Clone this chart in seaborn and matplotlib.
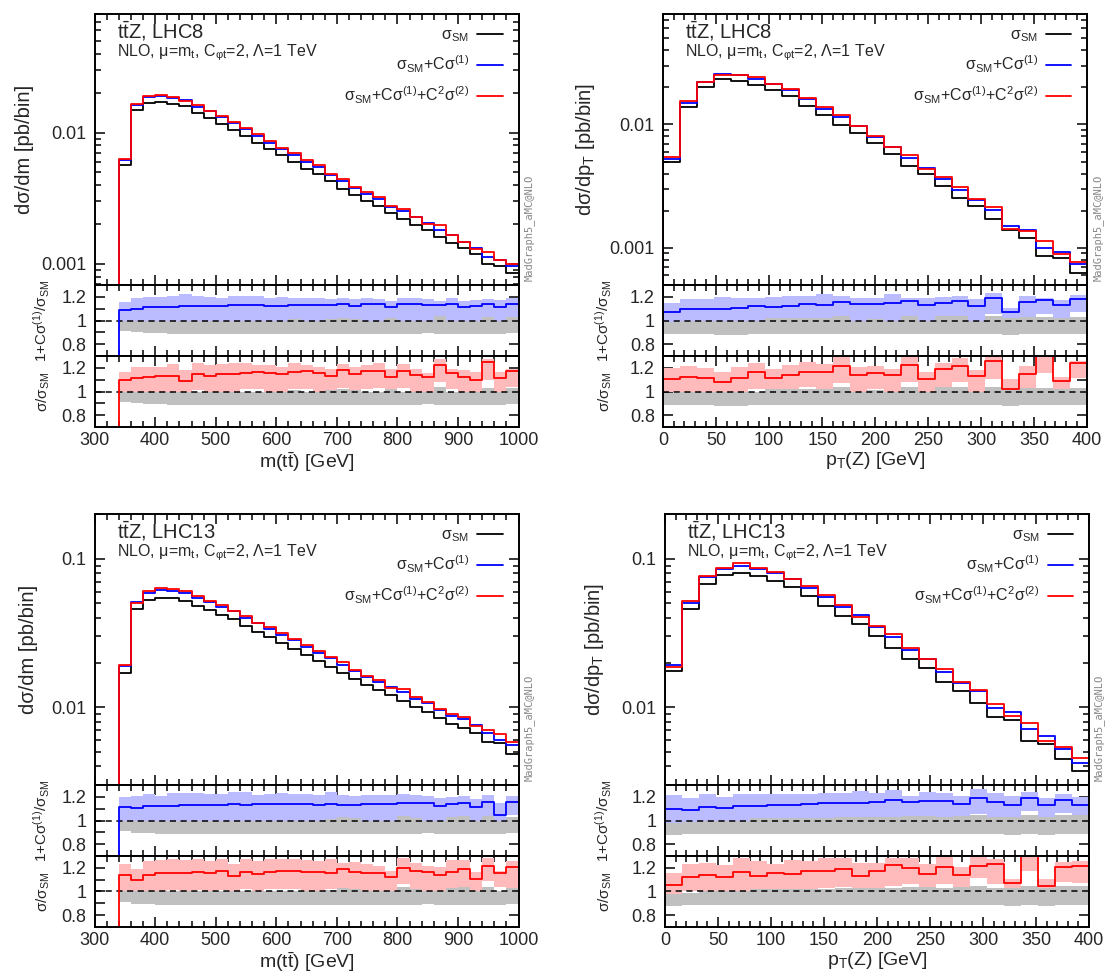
import numpy as np
import matplotlib
matplotlib.use("Agg")
import matplotlib.pyplot as plt
import seaborn as sns
from matplotlib.ticker import MultipleLocator, FixedLocator, FuncFormatter, LogLocator, NullFormatter

# ---------------- data ----------------
m_edges = np.arange(340, 1001, 20)      # m(tt) bins [GeV]
pt_edges = np.arange(0, 401, 16)        # pT(Z) bins [GeV]

# LHC8, m(tt)
sm8_m = [0.0057, 0.0148, 0.0168, 0.0171, 0.0165, 0.0159, 0.0141, 0.0130, 0.0117, 0.0105, 0.00938,
         0.00834, 0.00746, 0.00671, 0.00597, 0.00531, 0.00486, 0.00425, 0.00374, 0.00336, 0.00299,
         0.00274, 0.00245, 0.00221, 0.00199, 0.00180, 0.00160, 0.00144, 0.00132, 0.00118, 0.00099,
         0.00097, 0.00085]
lin8_m = [1.09, 1.10, 1.11, 1.115, 1.115, 1.12, 1.12, 1.125, 1.125, 1.128, 1.13, 1.133, 1.122, 1.125,
          1.13, 1.133, 1.128, 1.127, 1.142, 1.125, 1.136, 1.136, 1.11, 1.139, 1.136, 1.128, 1.127,
          1.142, 1.11, 1.12, 1.14, 1.11, 1.137]
lin8_m_hi = [1.158, 1.186, 1.2, 1.2, 1.206, 1.228, 1.206, 1.2, 1.194, 1.206, 1.206, 1.211, 1.194, 1.2,
             1.19, 1.19, 1.194, 1.183, 1.194, 1.183, 1.186, 1.183, 1.167, 1.186, 1.186, 1.18, 1.167,
             1.186, 1.167, 1.172, 1.178, 1.17, 1.186]
lin8_m_lo = [0.98, 0.98, 0.98, 0.98, 0.975, 0.972, 0.98, 0.98, 0.985, 0.985, 0.985, 0.985, 0.985, 0.985,
             0.99, 0.99, 0.99, 0.99, 1.0, 0.99, 0.99, 0.99, 0.985, 1.0, 0.99, 0.99, 1.0, 1.0, 0.985,
             0.985, 1.0, 0.985, 1.0]
full8_m = [1.10, 1.117, 1.125, 1.133, 1.133, 1.086, 1.15, 1.128, 1.147, 1.144, 1.153, 1.167, 1.156,
           1.144, 1.161, 1.17, 1.156, 1.128, 1.178, 1.147, 1.17, 1.172, 1.125, 1.175, 1.139, 1.12,
           1.225, 1.153, 1.12, 1.097, 1.253, 1.11, 1.175]
full8_m_hi = [1.161, 1.205, 1.21, 1.21, 1.233, 1.178, 1.239, 1.225, 1.23, 1.239, 1.244, 1.225, 1.225,
              1.21, 1.244, 1.225, 1.21, 1.19, 1.23, 1.21, 1.225, 1.239, 1.19, 1.23, 1.19, 1.156,
              1.278, 1.19, 1.178, 1.161, 1.272, 1.167, 1.19]
full8_m_lo = [0.99, 1.0, 1.0, 1.0, 1.0, 0.967, 1.01, 1.0, 1.0, 1.0, 1.02, 1.02, 1.0, 1.0, 1.02, 1.02,
              1.0, 0.99, 1.03, 1.0, 1.02, 1.03, 0.99, 1.03, 1.0, 0.98, 1.083, 1.02, 0.99, 0.97, 1.1,
              1.0, 1.04]
sm8_m_lo = [0.91, 0.9, 0.895, 0.895, 0.89, 0.885, 0.885, 0.89, 0.89, 0.89, 0.89, 0.89, 0.89, 0.89,
            0.89, 0.89, 0.89, 0.89, 0.89, 0.89, 0.89, 0.89, 0.89, 0.89, 0.89, 0.895, 0.89, 0.89, 0.89,
            0.89, 0.885, 0.89, 0.895]
sm8_m_hi = [0.995, 1.0, 1.0, 1.0, 1.0, 1.0, 1.0, 1.0, 1.0, 1.0, 1.0, 1.0, 1.0, 1.0, 1.01, 1.0, 1.0,
            1.01, 1.02, 1.01, 1.0, 1.0, 1.02, 1.0, 1.0, 1.0, 1.04, 1.0, 1.0, 1.0, 1.03, 1.0, 1.03]

# LHC8, pT(Z)
sm8_pt = [0.00492, 0.01374, 0.0200, 0.0232, 0.0226, 0.0208, 0.0190, 0.0170, 0.0141, 0.0119, 0.00988,
          0.00845, 0.00701, 0.00574, 0.00462, 0.00393, 0.00316, 0.00254, 0.00218, 0.00170, 0.00139,
          0.00120, 0.000855, 0.00082, 0.00062]
lin8_pt = [1.075, 1.094, 1.094, 1.10, 1.106, 1.12, 1.114, 1.122, 1.139, 1.13, 1.153, 1.139, 1.136,
           1.144, 1.164, 1.13, 1.15, 1.164, 1.125, 1.186, 1.075, 1.16, 1.175, 1.133, 1.185]
lin8_pt_hi = [1.15, 1.178, 1.178, 1.2, 1.194, 1.194, 1.2, 1.206, 1.206, 1.22, 1.211, 1.194, 1.186,
              1.22, 1.194, 1.194, 1.2, 1.206, 1.183, 1.236, 1.103, 1.206, 1.194, 1.172, 1.214]
lin8_pt_lo = [0.975, 0.98, 0.98, 0.98, 0.98, 0.985, 0.985, 0.99, 0.99, 1.0, 1.0, 1.0, 1.0, 1.0, 1.0,
              1.0, 1.0, 1.0, 1.0, 1.056, 0.98, 1.0, 1.056, 1.0, 1.07]
full8_pt = [1.108, 1.119, 1.111, 1.083, 1.117, 1.161, 1.117, 1.136, 1.167, 1.161, 1.217, 1.139, 1.153,
            1.136, 1.228, 1.106, 1.186, 1.217, 1.133, 1.258, 1.017, 1.147, 1.32, 1.092, 1.244]
full8_pt_hi = [1.197, 1.217, 1.197, 1.161, 1.206, 1.244, 1.19, 1.222, 1.25, 1.23, 1.35, 1.206, 1.217,
               1.19, 1.35, 1.161, 1.244, 1.28, 1.178, 1.35, 1.106, 1.217, 1.4, 1.12, 1.26]
full8_pt_lo = [1.0, 1.0, 1.0, 0.961, 1.0, 1.02, 1.0, 1.02, 1.04, 1.02, 1.07, 1.0, 1.02, 1.0, 1.08,
               0.99, 1.04, 1.08, 1.0, 1.106, 0.883, 1.03, 1.156, 0.98, 1.11]
sm8_pt_lo = [0.89, 0.89, 0.89, 0.88, 0.88, 0.885, 0.89, 0.89, 0.89, 0.885, 0.885, 0.89, 0.89, 0.89,
             0.89, 0.885, 0.89, 0.89, 0.89, 0.885, 0.88, 0.885, 0.885, 0.89, 0.89]
sm8_pt_hi = [0.99, 1.0, 1.0, 1.0, 1.0, 1.0, 1.02, 1.02, 1.02, 1.025, 1.04, 1.0, 1.01, 1.0, 1.04, 1.0,
             1.04, 1.04, 1.0, 1.04, 1.02, 1.03, 1.03, 1.02, 1.03]

# LHC13, m(tt)
sm13_m = [0.01693, 0.0459, 0.0527, 0.0547, 0.0542, 0.0523, 0.0481, 0.0452, 0.0418, 0.0391, 0.0352,
          0.0323, 0.0296, 0.0270, 0.0247, 0.0225, 0.0205, 0.0188, 0.0171, 0.0154, 0.0141, 0.0131,
          0.0121, 0.01104, 0.0100, 0.0093, 0.00852, 0.00769, 0.00723, 0.00676, 0.00582, 0.00573,
          0.00483]
lin13_m = [1.114, 1.106, 1.119, 1.122, 1.125, 1.131, 1.131, 1.133, 1.133, 1.136, 1.133, 1.139, 1.139,
           1.136, 1.142, 1.139, 1.133, 1.136, 1.133, 1.133, 1.136, 1.136, 1.139, 1.147, 1.144, 1.144,
           1.125, 1.136, 1.15, 1.117, 1.155, 1.05, 1.16]
lin13_m_hi = [1.2, 1.206, 1.225, 1.211, 1.233, 1.233, 1.233, 1.228, 1.225, 1.239, 1.239, 1.219, 1.225,
              1.233, 1.225, 1.225, 1.219, 1.239, 1.219, 1.211, 1.217, 1.219, 1.217, 1.225, 1.219,
              1.211, 1.189, 1.2, 1.211, 1.178, 1.214, 1.149, 1.206]
lin13_m_lo = [0.985, 0.98, 0.98, 0.98, 0.98, 0.98, 0.98, 0.985, 0.985, 0.985, 0.985, 0.985, 0.985,
              0.985, 0.99, 0.99, 0.99, 0.99, 0.99, 0.99, 0.99, 0.99, 0.99, 0.99, 0.99, 0.99, 0.99,
              0.99, 0.99, 0.99, 1.0, 0.954, 1.05]
full13_m = [1.14, 1.097, 1.142, 1.155, 1.16, 1.156, 1.164, 1.156, 1.175, 1.131, 1.168, 1.15, 1.168,
            1.172, 1.17, 1.168, 1.165, 1.16, 1.186, 1.162, 1.158, 1.158, 1.12, 1.198, 1.175, 1.165,
            1.142, 1.165, 1.186, 1.108, 1.218, 1.153, 1.206]
full13_m_hi = [1.236, 1.194, 1.256, 1.267, 1.272, 1.267, 1.272, 1.256, 1.272, 1.23, 1.278, 1.256,
               1.278, 1.278, 1.272, 1.267, 1.256, 1.278, 1.244, 1.25, 1.23, 1.217, 1.172, 1.283,
               1.244, 1.217, 1.203, 1.267, 1.267, 1.161, 1.283, 1.17, 1.256]
full13_m_lo = [1.0, 0.99, 1.0, 1.0, 1.01, 1.0, 1.01, 1.0, 1.01, 1.0, 1.02, 1.0, 1.02, 1.02, 1.02, 1.0,
               1.0, 1.02, 1.03, 1.0, 1.0, 1.0, 0.99, 1.06, 1.02, 1.0, 1.0, 1.02, 1.03, 0.99, 1.09,
               1.04, 1.02]
sm13_m_lo = [0.91, 0.895, 0.895, 0.89, 0.89, 0.89, 0.89, 0.89, 0.89, 0.89, 0.89, 0.89, 0.89, 0.89,
             0.89, 0.89, 0.89, 0.89, 0.89, 0.89, 0.89, 0.89, 0.89, 0.89, 0.89, 0.895, 0.89, 0.89,
             0.89, 0.885, 0.89, 0.89, 0.895]
sm13_m_hi = [1.0, 1.0, 1.0, 1.0, 1.0, 1.0, 1.0, 1.0, 1.0, 1.0, 1.0, 1.0, 1.0, 1.0, 1.0, 1.0, 1.0,
             1.01, 1.03, 1.02, 1.0, 1.0, 1.0, 1.04, 1.02, 1.0, 1.0, 1.03, 1.04, 1.0, 1.04, 1.0, 1.03]

# LHC13, pT(Z)
sm13_pt = [0.01756, 0.0459, 0.0672, 0.0777, 0.0797, 0.0764, 0.0708, 0.0641, 0.0561, 0.0483, 0.0411,
           0.0361, 0.0302, 0.0252, 0.0210, 0.01829, 0.01488, 0.01288, 0.01075, 0.00856, 0.00822,
           0.00594, 0.00564, 0.00447, 0.00373]
lin13_pt = [1.094, 1.089, 1.114, 1.103, 1.125, 1.119, 1.128, 1.133, 1.136, 1.144, 1.15, 1.15, 1.156,
            1.172, 1.156, 1.164, 1.164, 1.139, 1.189, 1.158, 1.131, 1.194, 1.131, 1.17, 1.129]
lin13_pt_hi = [1.219, 1.192, 1.225, 1.2, 1.225, 1.225, 1.225, 1.225, 1.225, 1.233, 1.233, 1.247, 1.233,
               1.261, 1.211, 1.239, 1.233, 1.206, 1.267, 1.233, 1.206, 1.239, 1.192, 1.225, 1.2]
lin13_pt_lo = [0.97, 0.97, 0.98, 0.98, 0.99, 0.99, 1.0, 1.0, 1.0, 1.0, 1.0, 1.0, 1.0, 1.0, 1.0, 1.0,
               1.0, 1.0, 1.053, 1.0, 0.99, 1.08, 1.0, 1.06, 1.0]
full13_pt = [1.056, 1.125, 1.139, 1.119, 1.167, 1.128, 1.158, 1.144, 1.172, 1.172, 1.192, 1.131, 1.172,
             1.228, 1.2, 1.15, 1.208, 1.142, 1.214, 1.231, 1.069, 1.32, 1.05, 1.203, 1.214]
full13_pt_hi = [1.156, 1.23, 1.244, 1.222, 1.286, 1.258, 1.23, 1.267, 1.256, 1.286, 1.286, 1.244,
                1.244, 1.286, 1.286, 1.23, 1.294, 1.203, 1.294, 1.278, 1.106, 1.4, 1.106, 1.25, 1.256]
full13_pt_lo = [0.95, 1.0, 1.0, 1.0, 1.0, 1.0, 1.02, 1.02, 1.02, 1.03, 1.04, 1.0, 1.03, 1.05, 1.064,
                1.0, 1.06, 1.0, 1.11, 1.06, 0.967, 1.175, 0.961, 1.083, 1.075]
sm13_pt_lo = [0.88, 0.89, 0.89, 0.89, 0.89, 0.89, 0.89, 0.885, 0.885, 0.89, 0.89, 0.89, 0.885, 0.89,
              0.89, 0.89, 0.89, 0.885, 0.89, 0.89, 0.875, 0.89, 0.875, 0.89, 0.89]
sm13_pt_hi = [0.98, 0.99, 1.0, 1.0, 1.0, 1.02, 1.02, 1.02, 1.02, 1.02, 1.03, 1.03, 1.03, 1.03, 1.04,
              1.04, 1.03, 1.04, 1.05, 1.03, 1.03, 1.05, 1.03, 1.05, 1.05]

labels = ["σ$_{SM}$", "σ$_{SM}$+Cσ$^{(1)}$", "σ$_{SM}$+Cσ$^{(1)}$+C$^2$σ$^{(2)}$"]

# ---------------- style ----------------
sns.set_theme(style="ticks")
plt.rcParams["font.family"] = ["Liberation Sans", "DejaVu Sans"]
plt.rcParams["mathtext.fontset"] = "custom"
plt.rcParams["mathtext.rm"] = "Liberation Sans"
plt.rcParams["mathtext.it"] = "Liberation Sans:italic"
plt.rcParams["mathtext.default"] = "regular"

W, H = 1105, 976
fig = plt.figure(figsize=(W / 100, H / 100), dpi=100)

MAIN_H = 271 / H
RAT_H = 71 / H
AX_W = 424 / W


def step(ax, edges, vals, color, base, label=None):
    x = np.concatenate([[edges[0]], edges])
    y = np.concatenate([[base], vals, [vals[-1]]])
    sns.lineplot(x=x, y=y, drawstyle="steps-post", color=color, lw=1.3, estimator=None,
                 sort=False, ax=ax, label=label, legend=False)


def style_axes(ax, edges, xmaj, xmin):
    ax.set_xlim(edges[0] if edges[0] == 0 else 300, edges[-1])
    ax.xaxis.set_major_locator(MultipleLocator(xmaj))
    ax.xaxis.set_minor_locator(MultipleLocator(xmin))
    ax.tick_params(which="both", direction="in", top=True, right=True, labelsize=13,
                   width=1.1, color="black")
    ax.tick_params(which="major", length=7)
    ax.tick_params(which="minor", length=4)
    ax.tick_params(axis="y", pad=6)
    for s in ax.spines.values():
        s.set_linewidth(1.4)
        s.set_color("black")
    ax.grid(False)


def block(left, top, edges, xmaj, xmin, ylim, sm, lin, lin_hi, lin_lo, full, full_hi, full_lo,
          g_lo, g_hi, title, ylab, xlab, ylx, rlx):
    sm = np.array(sm)
    ax = fig.add_axes([left, top - MAIN_H, AX_W, MAIN_H])
    r1 = fig.add_axes([left, top - MAIN_H - RAT_H, AX_W, RAT_H])
    r2 = fig.add_axes([left, top - MAIN_H - 2 * RAT_H, AX_W, RAT_H])

    ax.set_yscale("log")
    step(ax, edges, sm, "black", 1e-5, labels[0])
    step(ax, edges, sm * np.array(lin), "#0000ff", 1e-5, labels[1])
    step(ax, edges, sm * np.array(full), "#ff0000", 1e-5, labels[2])
    ax.set_ylim(*ylim)
    ax.yaxis.set_major_locator(LogLocator(base=10))
    ax.yaxis.set_minor_locator(LogLocator(base=10, subs=np.arange(2, 10)))
    ax.yaxis.set_minor_formatter(NullFormatter())
    ax.yaxis.set_major_formatter(FuncFormatter(lambda v, p: "%g" % v))
    style_axes(ax, edges, xmaj, xmin)
    ax.tick_params(labelbottom=False)
    ax.set_xlabel("")
    ax.set_ylabel(ylab, fontsize=14.5)
    ax.yaxis.set_label_coords(ylx, 0.5)
    ax.text(0.052, 0.937, title, transform=ax.transAxes, fontsize=14.5, va="center", ha="left")
    ax.text(0.052, 0.856, "NLO, μ=m$_t$, C$_{φt}$=2, Λ=1 TeV", transform=ax.transAxes,
            fontsize=11.5, va="center", ha="left")
    ax.text(1.012, 0.015, "MadGraph5_aMC@NLO", transform=ax.transAxes, rotation=90,
            fontsize=7.5, family="DejaVu Sans Mono", color="#888888", ha="left", va="bottom")
    ax.legend(loc="upper right", bbox_to_anchor=(0.985, 0.985), frameon=False, markerfirst=False,
              fontsize=11.5, handlelength=1.6, handletextpad=0.5, labelspacing=0.6,
              borderaxespad=0.2)

    for rax, val, hi, lo, col, band, rlab in [
            (r1, lin, lin_hi, lin_lo, "#0000ff", "#bbbbff", "1+Cσ$^{(1)}$/σ$_{SM}$"),
            (r2, full, full_hi, full_lo, "#ff0000", "#ffbbbb", "σ/σ$_{SM}$")]:
        rax.stairs(hi, edges, baseline=lo, fill=True, color=band, lw=0)
        rax.stairs(g_hi, edges, baseline=g_lo, fill=True, color="#c0c0c0", lw=0)
        rax.axhline(1.0, color="black", ls=(0, (4, 3)), lw=1.1)
        step(rax, edges, val, col, 0.5)
        rax.set_ylim(0.7, 1.3)
        rax.yaxis.set_major_locator(FixedLocator([0.8, 1.0, 1.2]))
        rax.yaxis.set_minor_locator(FixedLocator([0.9, 1.1]))
        rax.yaxis.set_major_formatter(FuncFormatter(lambda v, p: "%g" % round(v, 2)))
        style_axes(rax, edges, xmaj, xmin)
        rax.tick_params(axis="y", which="minor", length=7)
        rax.set_ylabel(rlab, fontsize=11)
        rax.yaxis.set_label_coords(rlx, 0.5)
        rax.set_xlabel("")
    r1.tick_params(labelbottom=False)
    r2.set_xlabel(xlab, fontsize=14, labelpad=1)


TOP1 = 1 - 14 / H
TOP2 = 1 - 514 / H

block(94.6 / W, TOP1, m_edges, 100, 20, (0.00069, 0.08), sm8_m, lin8_m, lin8_m_hi, lin8_m_lo,
      full8_m, full8_m_hi, full8_m_lo, sm8_m_lo, sm8_m_hi, "t$\\bar{t}$Z, LHC8", "dσ/dm [pb/bin]",
      "m(t$\\bar{t}$) [GeV]", -0.143, -0.101)
block(663.2 / W, TOP1, pt_edges, 50, 10, (0.0005, 0.0785), sm8_pt, lin8_pt, lin8_pt_hi, lin8_pt_lo,
      full8_pt, full8_pt_hi, full8_pt_lo, sm8_pt_lo, sm8_pt_hi, "t$\\bar{t}$Z, LHC8",
      "dσ/dp$_T$ [pb/bin]", "p$_T$(Z) [GeV]", -0.156, -0.116)
block(94.6 / W, TOP2, m_edges, 100, 20, (0.003, 0.2), sm13_m, lin13_m, lin13_m_hi, lin13_m_lo,
      full13_m, full13_m_hi, full13_m_lo, sm13_m_lo, sm13_m_hi, "t$\\bar{t}$Z, LHC13",
      "dσ/dm [pb/bin]", "m(t$\\bar{t}$) [GeV]", -0.134, -0.101)
block(665.0 / W, TOP2, pt_edges, 50, 10, (0.003, 0.2), sm13_pt, lin13_pt, lin13_pt_hi, lin13_pt_lo,
      full13_pt, full13_pt_hi, full13_pt_lo, sm13_pt_lo, sm13_pt_hi, "t$\\bar{t}$Z, LHC13",
      "dσ/dp$_T$ [pb/bin]", "p$_T$(Z) [GeV]", -0.14, -0.12)

fig.savefig("out.png", dpi=100)
